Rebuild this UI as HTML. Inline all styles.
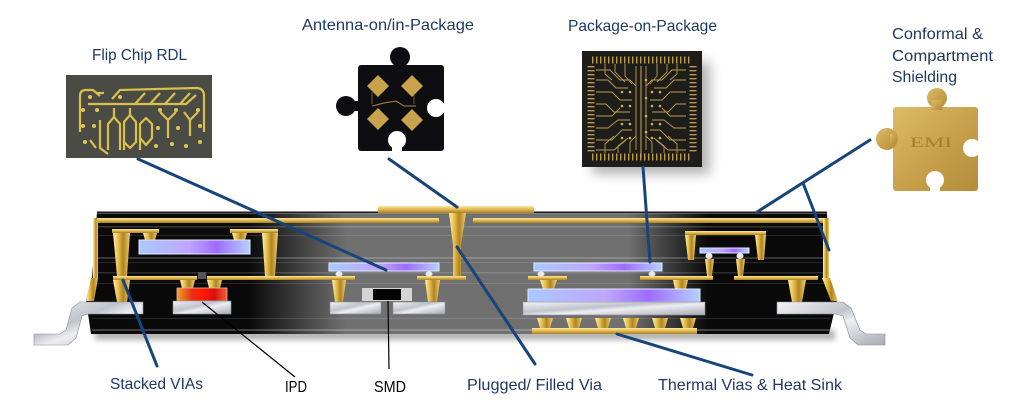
<!DOCTYPE html>
<html><head><meta charset="utf-8"><style>
html,body{margin:0;padding:0;background:#fff;}
svg{display:block;}
text{font-family:"Liberation Sans",sans-serif;}
</style></head><body>
<svg width="1024" height="414" viewBox="0 0 1024 414" xmlns="http://www.w3.org/2000/svg">
<defs>
<linearGradient id="toGray" x1="0" y1="0" x2="1" y2="0">
 <stop offset="0" stop-color="#0a0a0a"/>
 <stop offset="1" stop-color="#707070"/>
</linearGradient>
<linearGradient id="toDark" x1="0" y1="0" x2="1" y2="0">
 <stop offset="0" stop-color="#707070"/>
 <stop offset="1" stop-color="#0a0a0a"/>
</linearGradient>
<linearGradient id="goldv" x1="0" y1="0" x2="0" y2="1">
 <stop offset="0" stop-color="#fbe7a0"/>
 <stop offset="0.5" stop-color="#e0b850"/>
 <stop offset="1" stop-color="#a8801e"/>
</linearGradient>
<linearGradient id="goldh" x1="0" y1="0" x2="1" y2="0">
 <stop offset="0" stop-color="#fff0b0"/>
 <stop offset="0.3" stop-color="#e8c050"/>
 <stop offset="0.6" stop-color="#b08420"/>
 <stop offset="1" stop-color="#f0d070"/>
</linearGradient>
<linearGradient id="silver" x1="0" y1="0" x2="1" y2="1">
 <stop offset="0" stop-color="#f4f5f8"/>
 <stop offset="0.4" stop-color="#bfc3cb"/>
 <stop offset="0.55" stop-color="#eceef2"/>
 <stop offset="1" stop-color="#a6aab2"/>
</linearGradient>
<linearGradient id="chip" x1="0" y1="0" x2="1" y2="0">
 <stop offset="0" stop-color="#a9c9ff"/>
 <stop offset="0.45" stop-color="#bfa6ff"/>
 <stop offset="0.7" stop-color="#9e6cff"/>
 <stop offset="1" stop-color="#b6d0ff"/>
</linearGradient>
<linearGradient id="ipd" x1="0" y1="0" x2="1" y2="0">
 <stop offset="0" stop-color="#f0a030"/>
 <stop offset="0.3" stop-color="#e83010"/>
 <stop offset="0.5" stop-color="#ff1a00"/>
 <stop offset="0.75" stop-color="#d81010"/>
 <stop offset="1" stop-color="#f06030"/>
</linearGradient>
<linearGradient id="emi" x1="0" y1="0" x2="1" y2="1">
 <stop offset="0" stop-color="#dcbc68"/>
 <stop offset="0.5" stop-color="#caa24c"/>
 <stop offset="1" stop-color="#b48c3a"/>
</linearGradient>
<filter id="blur6" x="-30%" y="-30%" width="160%" height="160%"><feGaussianBlur stdDeviation="6"/></filter>
<filter id="blur3" x="-10%" y="-50%" width="120%" height="200%"><feGaussianBlur stdDeviation="3"/></filter>
</defs>

<rect width="1024" height="414" fill="#fff"/>

<!-- ===== Flip chip RDL photo ===== -->
<rect x="66" y="75" width="146" height="83" fill="#4b4b46"/>
<g fill="none" stroke="#d9c04a" stroke-width="2.2" stroke-linejoin="round">
 <path d="M80,132 L80,96 Q80,90 86,90 L93,90 L100,96"/>
 <path d="M112,99 L120,90 L196,88 Q204,88 204,96 L204,132"/>
 <path d="M88,104 L186,104 L196,95"/>
 <path d="M135,104 L145,93"/><path d="M150,104 L160,93"/><path d="M165,104 L175,93"/><path d="M180,104 L190,93"/>
 <path d="M96,93 L104,93"/>
 <path d="M108,150 L108,124 L114,117 L120,124 L120,150"/>
 <path d="M114,117 L114,108"/>
 <path d="M124,150 L124,122 L130,115 L136,122 L136,142 L130,148 L124,142"/>
 <path d="M130,115 L130,108"/>
 <path d="M140,150 L140,124 L146,118 L152,124 L152,138 L146,145 L140,138"/>
 <path d="M100,120 L100,148 L108,154"/>
 <path d="M160,112 L168,120 L176,112"/><path d="M168,120 L168,138"/>
 <path d="M184,112 L190,120 L198,112"/><path d="M190,120 L190,136"/>
 <path d="M90,140 L96,148"/>
</g>
<g fill="#e0c850">
 <circle cx="83" cy="110" r="2"/><circle cx="97" cy="110" r="2"/><circle cx="160" cy="110" r="2"/><circle cx="176" cy="110" r="2"/><circle cx="198" cy="110" r="2"/>
 <circle cx="83" cy="126" r="2"/><circle cx="94" cy="126" r="2"/><circle cx="158" cy="128" r="2"/><circle cx="178" cy="128" r="2"/><circle cx="200" cy="126" r="2"/>
 <circle cx="85" cy="142" r="2"/><circle cx="156" cy="146" r="2"/><circle cx="172" cy="144" r="2"/><circle cx="186" cy="146" r="2"/><circle cx="200" cy="142" r="2"/>
 <circle cx="90" cy="97" r="2"/><circle cx="120" cy="97" r="2"/>
</g>

<!-- ===== Antenna puzzle ===== -->
<g fill="#0e0e12">
 <rect x="358" y="65" width="86" height="86" rx="3"/>
 <circle cx="400" cy="57" r="10"/>
 <rect x="395" y="60" width="10" height="8"/>
 <circle cx="346" cy="106" r="10"/>
 <rect x="350" y="101" width="10" height="10"/>
</g>
<g fill="#fff">
 <circle cx="436" cy="108" r="9"/>
 <rect x="440" y="103" width="6" height="10"/>
 <circle cx="397" cy="140" r="9"/>
 <rect x="392" y="144" width="10" height="9"/>
</g>
<g fill="#c9a24c">
 <polygon points="378,75 389,86 378,97 367,86"/>
 <polygon points="412,75 423,86 412,97 401,86"/>
 <polygon points="378,108 389,119 378,130 367,119"/>
 <polygon points="412,109 423,120 412,131 401,120"/>
</g>
<path d="M372,106 L384,103 L396,101 L404,106 L416,106" fill="none" stroke="#a88a40" stroke-width="1"/>
<path d="M372,104 L372,92 M414,104 L414,94" fill="none" stroke="#8a7030" stroke-width="0.8"/>

<!-- ===== PoP photo ===== -->
<rect x="592" y="62" width="118" height="112" fill="#000" opacity="0.3" filter="url(#blur6)"/>
<rect x="582" y="51" width="120" height="116" fill="#1f1d19"/>
<g stroke="#b89c55" fill="none">
 <line x1="592" y1="60" x2="692" y2="60" stroke-width="7" stroke-dasharray="1.4 2.6"/>
 <line x1="592" y1="157" x2="692" y2="157" stroke-width="7" stroke-dasharray="1.4 2.6"/>
 <line x1="591" y1="66" x2="591" y2="152" stroke-width="7" stroke-dasharray="1.4 2.6"/>
 <line x1="693" y1="66" x2="693" y2="152" stroke-width="7" stroke-dasharray="1.4 2.6"/>
</g>
<g fill="none" stroke="#b89c55" stroke-width="0.9" id="popl">
 <path d="M596,70 L610,70 L620,80 L630,80 L636,86"/>
 <path d="M596,80 L608,80 L616,88 L628,88"/>
 <path d="M596,92 L612,92 L620,100 L632,100"/>
 <path d="M596,104 L606,104 L614,112 L630,112"/>
 <path d="M596,116 L612,116 L620,108"/>
 <path d="M596,128 L608,128 L618,120 L630,120"/>
 <path d="M596,140 L612,140 L622,130 L632,130"/>
 <path d="M596,150 L614,150 L626,140"/>
 <path d="M605,64 L605,74 L612,80"/>
 <path d="M615,64 L615,72 L625,82"/>
 <path d="M625,64 L625,76 L632,84"/>
 <path d="M605,153 L605,144 L614,136"/>
 <path d="M618,153 L618,146 L628,138"/>
 <path d="M630,153 L630,142 L636,136"/>
 <path d="M636,66 L636,150"/>
</g>
<use href="#popl" transform="translate(1282,0) scale(-1,1)"/>
<line x1="641" y1="66" x2="641" y2="158" stroke="#c8ac60" stroke-width="1"/>
<g fill="#d0b060">
 <circle cx="622" cy="92" r="1.3"/><circle cx="630" cy="92" r="1.3"/><circle cx="652" cy="92" r="1.3"/><circle cx="660" cy="92" r="1.3"/>
 <circle cx="622" cy="106" r="1.3"/><circle cx="630" cy="106" r="1.3"/><circle cx="652" cy="106" r="1.3"/><circle cx="660" cy="106" r="1.3"/>
 <circle cx="622" cy="124" r="1.3"/><circle cx="630" cy="124" r="1.3"/><circle cx="652" cy="124" r="1.3"/><circle cx="660" cy="124" r="1.3"/>
 <circle cx="622" cy="138" r="1.3"/><circle cx="630" cy="138" r="1.3"/><circle cx="652" cy="138" r="1.3"/><circle cx="660" cy="138" r="1.3"/>
 <circle cx="646" cy="80" r="1.3"/><circle cx="646" cy="98" r="1.3"/><circle cx="646" cy="116" r="1.3"/><circle cx="646" cy="132" r="1.3"/>
</g>

<!-- ===== EMI puzzle ===== -->
<g fill="url(#emi)">
 <rect x="893" y="107" width="85" height="84" rx="3"/>
 <circle cx="937" cy="98" r="10"/>
 <rect x="932" y="100" width="10" height="10"/>
 <circle cx="887" cy="139" r="11"/>
 <rect x="890" y="134" width="6" height="10"/>
</g>
<g fill="#fff">
 <circle cx="972" cy="148" r="9"/>
 <rect x="976" y="143" width="4" height="10"/>
 <circle cx="935" cy="180" r="9"/>
 <rect x="930" y="184" width="10" height="9"/>
</g>
<text x="931" y="147" font-size="15" fill="#a4802f" text-anchor="middle" textLength="42" lengthAdjust="spacingAndGlyphs" style="font-family:'Liberation Serif',serif">EMI</text>

<!-- ===== Package body ===== -->
<rect x="95" y="330" width="740" height="10" fill="#000" opacity="0.3" filter="url(#blur3)"/>
<polygon points="97,212 827,212 829,278 837,300 829,334 91,334 86,300 92,278" fill="#0a0a0a"/>
<rect x="249" y="212" width="97" height="122" fill="url(#toGray)"/>
<rect x="345" y="212" width="284" height="122" fill="#707070"/>
<rect x="628" y="212" width="80" height="122" fill="url(#toDark)"/>
<rect x="97" y="211.5" width="730" height="1.5" fill="#1a1a1a"/>
<rect x="97" y="213" width="730" height="1" fill="#999" opacity="0.5"/>
<g fill="#fff">
 <rect x="97" y="226" width="730" height="1.5" opacity="0.18"/>
 <rect x="97" y="235" width="730" height="1" opacity="0.12"/>
 <rect x="97" y="257" width="730" height="2" opacity="0.18"/>
 <rect x="97" y="262" width="730" height="1" opacity="0.12"/>
 <rect x="97" y="272" width="730" height="1.5" opacity="0.15"/>
 <rect x="92" y="283" width="738" height="1" opacity="0.12"/>
 <rect x="92" y="318" width="738" height="1" opacity="0.12"/>
 <rect x="92" y="329" width="738" height="2" opacity="0.22"/>
</g>

<!-- gold frame -->
<g fill="url(#goldv)">
 <rect x="93" y="218" width="346" height="5"/>
 <rect x="473" y="218" width="356" height="5"/>
 <rect x="378" y="206" width="156" height="7"/>
 <rect x="112" y="229" width="47" height="4"/>
 <rect x="230" y="229" width="48" height="4"/>
 <rect x="685" y="231" width="81" height="4"/>
 <rect x="113" y="276" width="84" height="4"/>
 <rect x="207" y="276" width="148" height="4"/>
 <rect x="417" y="276" width="49" height="4"/>
 <rect x="528" y="276" width="39" height="4"/>
 <rect x="640" y="276" width="73" height="4"/>
 <rect x="734" y="276" width="84" height="4"/>
 <rect x="532" y="328" width="165" height="6"/>
</g>
<g fill="url(#goldh)">
 <rect x="93" y="218" width="5" height="60"/>
 <rect x="823" y="218" width="6" height="60"/>
 <polygon points="91,278 98,278 94,301 86,301"/>
 <polygon points="822,278 830,278 838,301 831,301"/>
 <polygon points="113,233 130,233 127,276 117,276"/>
 <polygon points="262,233 278,233 275,276 265,276"/>
 <polygon points="143,233 157,233 155,240 145,240"/>
 <polygon points="232,233 247,233 245,240 234,240"/>
 <polygon points="449,213 466,213 461,245 461,276 453,276 453,245"/>
 <polygon points="113,280 130,280 127,302 117,302"/>
 <polygon points="332,280 346,280 343,302 335,302"/>
 <polygon points="425,280 440,280 437,302 428,302"/>
 <polygon points="540,280 557,280 554,289 543,289"/>
 <polygon points="673,280 688,280 686,289 675,289"/>
 <polygon points="788,280 806,280 802,302 792,302"/>
 <polygon points="180,280 195,280 193,288 182,288"/>
 <polygon points="207,280 222,280 220,288 209,288"/>
 <polygon points="685,235 696,235 694,260 688,260"/>
 <polygon points="755,235 766,235 764,260 758,260"/>
 <polygon points="705,259 714,259 712,276 707,276"/>
 <polygon points="736,259 745,259 743,276 738,276"/>
 <polygon points="537,318 553,318 550,328 540,328"/>
 <polygon points="566,318 582,318 579,328 569,328"/>
 <polygon points="595,318 611,318 608,328 598,328"/>
 <polygon points="623,318 639,318 636,328 626,328"/>
 <polygon points="652,318 668,318 665,328 655,328"/>
 <polygon points="680,318 696,318 693,328 683,328"/>
</g>
<rect x="198" y="272" width="8" height="7" fill="#555"/>

<!-- chips -->
<g fill="url(#chip)" stroke="#dfe6ff" stroke-width="1">
 <rect x="139" y="240" width="111" height="14"/>
 <rect x="329" y="263" width="110" height="8"/>
 <rect x="534" y="263" width="128" height="8"/>
 <rect x="528" y="289" width="172" height="13"/>
 <rect x="700" y="248" width="49" height="5"/>
</g>
<g fill="#e6e8ee">
 <ellipse cx="339" cy="274" rx="3.5" ry="2.5"/>
 <ellipse cx="429" cy="274" rx="3.5" ry="2.5"/>
 <ellipse cx="541" cy="274" rx="3.5" ry="2.5"/>
 <ellipse cx="652" cy="274" rx="3.5" ry="2.5"/>
 <ellipse cx="709" cy="256" rx="3.5" ry="3"/>
 <ellipse cx="740" cy="256" rx="3.5" ry="3"/>
</g>

<!-- IPD & SMD -->
<rect x="177" y="288" width="50" height="13" fill="url(#ipd)" stroke="#f0b0a0" stroke-width="0.8"/>
<rect x="362" y="288" width="50" height="13" fill="#d4d4d4"/>
<rect x="373" y="289" width="28" height="11" fill="#050505"/>

<!-- silver pads & leads -->
<g fill="url(#silver)" stroke="#8a8e96" stroke-width="0.6">
 <polygon points="143,302 80,302 72,308 66,330 60,334 34,334 34,345 68,345 76,338 82,316 88,314 143,314"/>
 <polygon points="777,302 843,302 851,308 860,330 866,334 885,334 885,345 858,345 850,338 843,316 836,314 777,314"/>
 <rect x="173" y="301" width="58" height="13"/>
 <rect x="330" y="302" width="51" height="12"/>
 <rect x="393" y="302" width="52" height="12"/>
 <rect x="523" y="302" width="182" height="13"/>
</g>

<!-- callout lines -->
<g stroke="#17457a" stroke-width="3" stroke-linecap="round" fill="none">
 <line x1="138" y1="159" x2="386" y2="270"/>
 <line x1="389" y1="159" x2="457" y2="207"/>
 <line x1="643" y1="167" x2="650" y2="262"/>
 <line x1="870" y1="140" x2="757" y2="212"/>
 <line x1="803" y1="183" x2="829" y2="250"/>
 <line x1="123" y1="280" x2="157" y2="366"/>
 <line x1="457" y1="247" x2="535" y2="364"/>
 <line x1="617" y1="334" x2="752" y2="375"/>
</g>
<g stroke="#000" stroke-width="1.2" fill="none">
 <line x1="202" y1="302" x2="295" y2="377"/>
 <line x1="388" y1="301" x2="389" y2="369"/>
</g>

<!-- labels -->
<g fill="#1f3864" font-size="16">
 <text x="92" y="60" textLength="95" lengthAdjust="spacingAndGlyphs">Flip Chip RDL</text>
 <text x="302" y="30" textLength="172" lengthAdjust="spacingAndGlyphs">Antenna-on/in-Package</text>
 <text x="568" y="31" textLength="149" lengthAdjust="spacingAndGlyphs">Package-on-Package</text>
 <text x="892" y="39" textLength="91" lengthAdjust="spacingAndGlyphs">Conformal &amp;</text>
 <text x="892" y="61" textLength="101" lengthAdjust="spacingAndGlyphs">Compartment</text>
 <text x="892" y="82" textLength="65" lengthAdjust="spacingAndGlyphs">Shielding</text>
 <text x="110" y="389" textLength="93" lengthAdjust="spacingAndGlyphs">Stacked VIAs</text>
 <text x="467" y="390" textLength="135" lengthAdjust="spacingAndGlyphs">Plugged/ Filled Via</text>
 <text x="658" y="390" textLength="184" lengthAdjust="spacingAndGlyphs">Thermal Vias &amp; Heat Sink</text>
</g>
<g fill="#000" font-size="16">
 <text x="285" y="392" textLength="22" lengthAdjust="spacingAndGlyphs">IPD</text>
 <text x="374" y="392" textLength="32" lengthAdjust="spacingAndGlyphs">SMD</text>
</g>
</svg>
</body></html>
